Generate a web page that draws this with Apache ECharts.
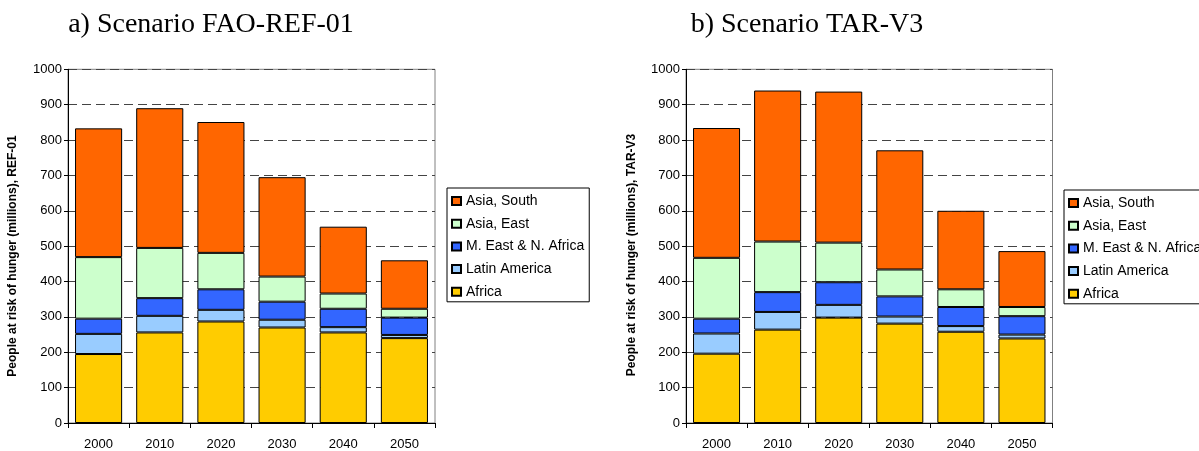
<!DOCTYPE html>
<html>
<head>
<meta charset="utf-8">
<script src="https://cdn.jsdelivr.net/npm/echarts@6/dist/echarts.min.js"></script>
<style>
html,body{margin:0;padding:0;background:#fff;}
#main{width:1199px;height:451px;}
</style>
</head>
<body>
<div id="main"></div>
<script>
// years on the x axis
var years = ['2000','2010','2020','2030','2040','2050'];
var regions = ['Africa','Latin America','M. East & N. Africa','Asia, East','Asia, South'];
var legendOrder = ['Asia, South','Asia, East','M. East & N. Africa','Latin America','Africa'];
var colors = ['#FFCC00','#99CCFF','#3366FF','#CCFFCC','#FF6600'];

// a) FAO-REF-01, millions per region (stack segments)
var refAfrica = [195, 256, 287, 270, 256, 240];
var refLatin  = [57, 47, 33, 22, 15, 9];
var refMENA   = [43, 50, 58, 51, 52, 49];
var refEast   = [174, 142, 103, 71, 43, 25];
var refSouth  = [364, 395, 370, 281, 189, 137];

// b) TAR-V3
var tarAfrica = [196, 264, 298, 281, 258, 239];
var tarLatin  = [57, 50, 36, 20, 16, 11];
var tarMENA   = [42, 56, 64, 57, 54, 52];
var tarEast   = [172, 143, 112, 76, 50, 26];
var tarSouth  = [367, 427, 427, 337, 222, 158];

var yTicks = [0,100,200,300,400,500,600,700,800,900,1000];

var font = 'Liberation Sans, Arial, sans-serif';
var myChart = echarts.init(document.getElementById('main'));

function makeSeries(idx, arrs, stackName){
	return arrs.map(function(d,i){
		return {
			name: regions[i],
			type: 'bar',
			stack: stackName,
			xAxisIndex: idx,
			yAxisIndex: idx,
			barCategoryGap: '23%',
			itemStyle: {color: colors[i], borderColor: '#000', borderWidth: 1},
			emphasis: {disabled: true},
			data: d
		};
	});
}

function makeX(idx){
	return {
		type: 'category',
		gridIndex: idx,
		data: years,
		boundaryGap: true,
		axisLine: {lineStyle: {color: '#000', width: 1}},
		axisTick: {show: true, length: 5, alignWithLabel: false, interval: 0, lineStyle: {color: '#000'}},
		axisLabel: {color: '#000', fontSize: 13, fontFamily: font, margin: 15, interval: 0}
	};
}

function makeY(idx){
	return {
		type: 'value',
		gridIndex: idx,
		min: yTicks[0],
		max: yTicks[yTicks.length-1],
		interval: 100,
		axisLine: {show: true, lineStyle: {color: '#000', width: 1}},
		axisTick: {show: true, length: 4, lineStyle: {color: '#000'}},
		axisLabel: {color: '#000', fontSize: 13, fontFamily: font, margin: 6, formatter: function(v){ return String(v); }},
		splitLine: {show: true, lineStyle: {color: '#444', width: 1, type: [9,5]}}
	};
}

function makeLegend(left, top){
	return {
		data: legendOrder.map(function(n){ return {name: n, icon: 'rect'}; }),
		orient: 'vertical',
		left: left,
		top: top,
		itemWidth: 9,
		itemHeight: 8,
		itemGap: 8.7,
		padding: [6,5,3,4],
		borderColor: '#000',
		borderWidth: 1,
		selectedMode: false,
		textStyle: {color: '#000', fontSize: 14, fontFamily: font, lineHeight: 14}
	};
}

var option = {
	animation: false,
	backgroundColor: '#fff',
	grid: [
		{left: 68, top: 69.3, width: 367, height: 354.7, show: true, borderColor: '#808080', borderWidth: 1},
		{left: 686, top: 69.3, width: 366.5, height: 354.7, show: true, borderColor: '#808080', borderWidth: 1}
	],
	xAxis: [makeX(0), makeX(1)],
	yAxis: [makeY(0), makeY(1)],
	legend: [makeLegend(447, 188), makeLegend(1064, 190)],
	graphic: [
		{type: 'text', x: 211, y: 25, style: {text: 'a) Scenario FAO-REF-01', fill: '#000', font: '28px "Liberation Serif", "Times New Roman", serif', textAlign: 'center', textVerticalAlign: 'middle'}},
		{type: 'text', x: 807, y: 25, style: {text: 'b) Scenario TAR-V3', fill: '#000', font: '28px "Liberation Serif", "Times New Roman", serif', textAlign: 'center', textVerticalAlign: 'middle'}},
		{type: 'text', x: 13, y: 256, rotation: Math.PI/2, style: {text: 'People at risk of hunger (millions), REF-01', fill: '#000', font: 'bold 12px "Liberation Sans", Arial, sans-serif', textAlign: 'center', textVerticalAlign: 'middle'}},
		{type: 'text', x: 632, y: 255, rotation: Math.PI/2, style: {text: 'People at risk of hunger (millions), TAR-V3', fill: '#000', font: 'bold 12px "Liberation Sans", Arial, sans-serif', textAlign: 'center', textVerticalAlign: 'middle'}}
	],
	series: makeSeries(0, [refAfrica, refLatin, refMENA, refEast, refSouth], 'ref')
		.concat(makeSeries(1, [tarAfrica, tarLatin, tarMENA, tarEast, tarSouth], 'tar'))
};

myChart.setOption(option);
</script>
</body>
</html>
